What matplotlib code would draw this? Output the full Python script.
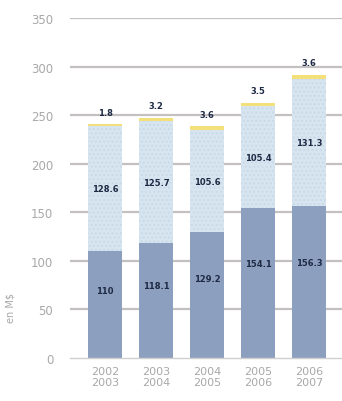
import matplotlib.pyplot as plt
import numpy as np

periods = ["2002\n2003", "2003\n2004", "2004\n2005", "2005\n2006", "2006\n2007"]
bottom_vals = [110, 118.1, 129.2, 154.1, 156.3]
middle_vals = [128.6, 125.7, 105.6, 105.4, 131.3]
top_vals = [1.8, 3.2, 3.6, 3.5, 3.6]
yticks = [0, 50, 100, 150, 200, 250, 300, 350]

C_BOTTOM = "#8d9fbf"
C_MIDDLE = "#d7e5f0"
C_TOP = "#f3e07a"
GRID = "#c4c0c0"
TXT = "#a8a8a8"
LBL = "#1e2a44"

fig = plt.figure(figsize=(3.42, 4.02), dpi=100)
ax = fig.add_axes([70 / 342, 43 / 402, 272 / 342, 340 / 402])

x = np.arange(len(periods))
w = 0.67
bottom = np.array(bottom_vals)
middle = np.array(middle_vals)
top = np.array(top_vals)

for y in yticks[1:]:
    ax.axhline(y, color=GRID, lw=1.6, zorder=0)

ax.bar(x, bottom, w, color=C_BOTTOM, zorder=2)
ax.bar(x, middle, w, bottom=bottom, color=C_MIDDLE, edgecolor="#c9d9e6",
       hatch="....", linewidth=0, zorder=2)
ax.bar(x, top, w, bottom=bottom + middle, color=C_TOP, zorder=2)

for i in range(len(x)):
    ax.text(x[i], bottom[i] * 0.63, f"{bottom_vals[i]:g}", ha="center", va="center",
            fontsize=6, fontweight="bold", color=LBL, zorder=3)
    ax.text(x[i], bottom[i] + middle[i] / 2, f"{middle_vals[i]:g}", ha="center",
            va="center", fontsize=6, fontweight="bold", color=LBL, zorder=3)
    ax.text(x[i], bottom[i] + middle[i] + top[i] + 8, f"{top_vals[i]:g}", ha="center",
            va="bottom", fontsize=6, fontweight="bold", color=LBL, zorder=3)

ax.set_xlim(-0.69, 4.65)
ax.set_ylim(0, 350)
ax.set_yticks(yticks)
ax.set_yticklabels([str(v) for v in yticks], color=TXT, fontsize=8.5)
ax.set_xticks(x)
ax.set_xticklabels(periods, color=TXT, fontsize=8, linespacing=1.1)
ax.tick_params(axis="y", length=0, pad=12)
ax.tick_params(axis="x", length=0, pad=6)
for s in ["top", "right", "left"]:
    ax.spines[s].set_visible(False)
ax.spines["bottom"].set_color("#d0d0d0")
ax.spines["bottom"].set_linewidth(1.0)
ax.set_ylabel("en M$", color=TXT, fontsize=7, labelpad=2)
ax.yaxis.set_label_coords(-0.2, 0.15)

fig.savefig("out.png", dpi=100)
